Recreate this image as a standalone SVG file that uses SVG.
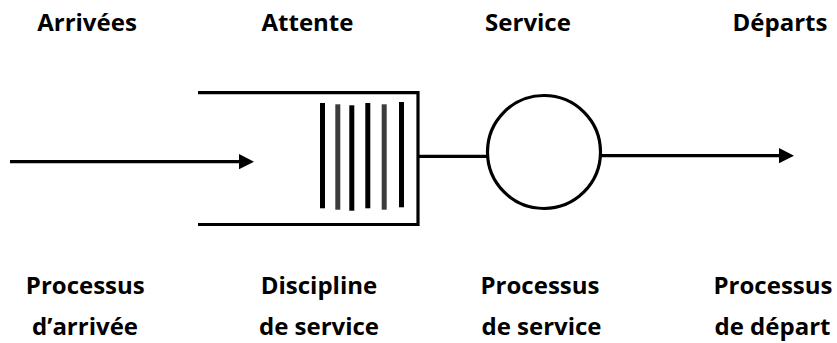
<svg xmlns="http://www.w3.org/2000/svg" width="837" height="343" viewBox="0 0 837 343">
  <style>
    .label { font-family: "Open Sans", Lato, "Liberation Sans", sans-serif; font-weight: bold; font-size: 24px; fill: #000; text-anchor: middle; }
    .wire { stroke: #000; stroke-width: 3.2; fill: none; }
    .bar-dark { fill: #000; }
    .bar-grey { fill: #3c3c3c; }
  </style>
  <defs>
    <marker id="head" markerUnits="userSpaceOnUse" markerWidth="16" markerHeight="16" refX="5" refY="7.6" orient="auto">
      <path d="M0,0 L15,7.6 L0,15.2 z" fill="#000"/>
    </marker>
  </defs>

  <!-- stage titles -->
  <g id="titles">
    <text class="label" x="87" y="31">Arrivées</text>
    <text class="label" x="307.5" y="31">Attente</text>
    <text class="label" x="528" y="31">Service</text>
    <text class="label" x="780" y="31">Départs</text>
  </g>

  <!-- queue buffer with waiting customers -->
  <g id="queue">
    <path class="wire" d="M198,92.7 H418 V224.5 H198"/>
    <rect class="bar-dark" x="320" y="103" width="5" height="105.3"/>
    <rect class="bar-grey" x="335.3" y="104.3" width="5" height="105.4"/>
    <rect class="bar-dark" x="349.3" y="105.3" width="5" height="105.4"/>
    <rect class="bar-dark" x="365.3" y="103" width="5" height="105.3"/>
    <rect class="bar-grey" x="381.7" y="104.3" width="5" height="105.4"/>
    <rect class="bar-dark" x="399" y="102" width="5" height="105.3"/>
  </g>

  <!-- server -->
  <g id="server">
    <circle class="wire" cx="544" cy="152" r="56.5"/>
  </g>

  <!-- flow lines -->
  <g id="connectors">
    <line class="wire" x1="10" y1="161.7" x2="244" y2="161.7" marker-end="url(#head)"/>
    <line class="wire" x1="418" y1="156.3" x2="487.5" y2="156.3"/>
    <line class="wire" x1="600.5" y1="155.7" x2="784" y2="155.7" marker-end="url(#head)"/>
  </g>

  <!-- process descriptions -->
  <g id="captions">
    <text class="label" x="85.3" y="294.3">Processus</text>
    <text class="label" x="85" y="334.5">d’arrivée</text>
    <text class="label" x="319" y="294.3">Discipline</text>
    <text class="label" x="319" y="334.5">de service</text>
    <text class="label" x="540" y="294.3">Processus</text>
    <text class="label" x="541.5" y="334.5">de service</text>
    <text class="label" x="773" y="294.3">Processus</text>
    <text class="label" x="772.5" y="334.5">de départ</text>
  </g>
</svg>
